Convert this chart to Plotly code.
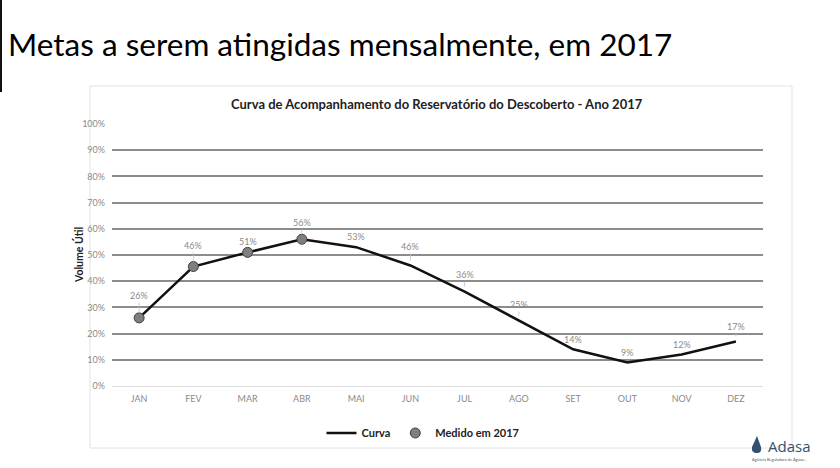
import plotly.graph_objects as go

months = ["JAN", "FEV", "MAR", "ABR", "MAI", "JUN", "JUL", "AGO", "SET", "OUT", "NOV", "DEZ"]
curva = [0.26, 0.456, 0.51, 0.56, 0.53, 0.46, 0.36, 0.25, 0.14, 0.09, 0.12, 0.17]
medido_months = ["JAN", "FEV", "MAR", "ABR"]
medido = [0.26, 0.456, 0.51, 0.56]
y_ticks = [0, 0.1, 0.2, 0.3, 0.4, 0.5, 0.6, 0.7, 0.8, 0.9, 1.0]

# label offsets (pixels above point) - styling only
label_offsets = [-22, -21, -11, -17, -11, -19, -17, -16, -10, -10, -10, -15]

W, H = 840, 468
L, R, T, B = 112, 763, 124, 386

def px(x):
    return (x - L) / (R - L)

def py(y):
    return (B - y) / (B - T)

FONT = "Lato, Liberation Sans, sans-serif"

fig = go.Figure()
fig.add_trace(go.Scatter(
    x=months, y=curva, mode="lines", name="Curva",
    line=dict(color="#111111", width=2.5),
))
fig.add_trace(go.Scatter(
    x=medido_months, y=medido, mode="markers", name="Medido em 2017",
    marker=dict(color="#7f7f7f", size=10, line=dict(color="#404040", width=1)),
))

annotations = []
for m, v, off in zip(months, curva, label_offsets):
    annotations.append(dict(
        x=m, y=v, xref="x", yref="y", text=f"{round(v*100):d}%",
        showarrow=True, arrowhead=0, arrowwidth=0.8, arrowcolor="#c0c0c0",
        ax=0, ay=off, standoff=5,
        font=dict(family=FONT, size=9, color="#8a8a8a"),
    ))

annotations.append(dict(
    x=px(437), y=py(104), xref="paper", yref="paper", showarrow=False,
    text="<b>Curva de Acompanhamento do Reservatório do Descoberto - Ano 2017</b>",
    font=dict(family=FONT, size=13, color="#222222"),
    xanchor="center", yanchor="middle",
))
annotations.append(dict(
    x=px(78), y=py(255), xref="paper", yref="paper", showarrow=False,
    text="<b>Volume Útil</b>", textangle=-90,
    font=dict(family=FONT, size=10.5, color="#222222"),
    xanchor="center", yanchor="middle",
))
annotations.append(dict(
    x=px(789), y=py(446), xref="paper", yref="paper", showarrow=False,
    text="Adasa", font=dict(family="Open Sans, sans-serif", size=15, color="#34506f"),
    xanchor="center", yanchor="middle",
))
annotations.append(dict(
    x=px(779), y=py(459), xref="paper", yref="paper", showarrow=False,
    text="Agência Reguladora de Águas...", font=dict(family=FONT, size=4, color="#555555"),
    xanchor="center", yanchor="middle",
))

shapes = [
    dict(type="rect", xref="paper", yref="paper", x0=px(90), x1=px(792), y0=py(86), y1=py(448),
         line=dict(color="#e2e2e2", width=1), fillcolor="rgba(0,0,0,0)", layer="below"),
    dict(type="line", xref="paper", yref="paper", x0=px(1), x1=px(1), y0=py(0), y1=py(92),
         line=dict(color="#111111", width=2)),
    dict(type="path", xref="paper", yref="paper",
         path=f"M {px(757)} {py(436)} L {px(752)} {py(447)} Q {px(751)} {py(453)} {px(757)} {py(453)} "
              f"Q {px(762)} {py(453)} {px(761)} {py(447)} Z",
         fillcolor="#34506f", line=dict(width=0)),
]

fig.update_layout(
    width=W, height=H,
    margin=dict(l=L, r=W - R, t=T, b=H - B),
    paper_bgcolor="white", plot_bgcolor="white",
    title=dict(text="Metas a serem atingidas mensalmente, em 2017",
               x=8 / W, xanchor="left", y=1 - 45 / H, yanchor="middle",
               xref="container", yref="container",
               font=dict(family=FONT, size=31.5, color="#000000")),
    xaxis=dict(type="category", range=[-0.5, 11.5], showgrid=False, showline=False,
               ticks="", tickfont=dict(family=FONT, size=9, color="#8a8a8a"), ticklabelstandoff=6),
    yaxis=dict(range=[0, 1.0], tickvals=y_ticks, tickformat=".0%", showgrid=True,
               gridcolor="#8c8c8c", gridwidth=1.5, zeroline=True, zerolinecolor="#dcdcdc",
               zerolinewidth=1.2, showline=False, ticks="",
               tickfont=dict(family=FONT, size=9, color="#8a8a8a"), ticklabelstandoff=6),
    showlegend=True,
    legend=dict(orientation="h", x=px(423), y=py(433), xanchor="center", yanchor="middle",
                font=dict(family=FONT, size=11, color="#222222", weight="bold"),
                itemwidth=30, bgcolor="rgba(0,0,0,0)"),
    annotations=annotations,
    shapes=shapes,
)

fig.write_html("out.html", config={"displayModeBar": False},
               post_script="document.body.style.margin='0';document.body.style.padding='0';")
